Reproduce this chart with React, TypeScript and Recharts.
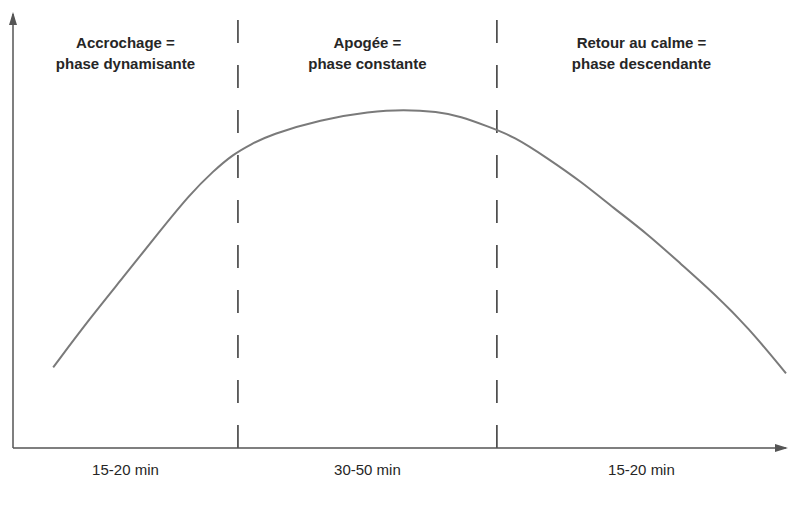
import React from 'react';
import { LineChart, Line, XAxis, YAxis, ReferenceLine, ReferenceArea, ReferenceDot } from 'recharts';

// phase boundaries on a 0-100 time scale
const phaseBounds = [0, 29.1, 62.6, 100];
const phaseTitles = [
  ['Accrochage =', 'phase dynamisante'],
  ['Apogée =', 'phase constante'],
  ['Retour au calme =', 'phase descendante'],
];
const phaseDurations = ['15-20 min', '30-50 min', '15-20 min'];

// intensity curve
const curveX = [5.2, 10.0, 14.2, 18.7, 22.9, 25.9, 28.5, 30.8, 33.3, 39.8, 46.2, 50.5, 54.9, 57.9, 61.4, 64.8, 69.2, 73.4, 77.7, 82.1, 86.4, 90.7, 95.1, 100];
const curveY = [18.6, 30.0, 39.2, 49.3, 58.5, 63.8, 67.7, 70.0, 72.2, 75.7, 77.5, 78.0, 77.5, 76.4, 74.1, 71.8, 66.7, 61.5, 55.3, 49.3, 42.4, 35.6, 27.8, 17.2];

const data = curveX.map((x, i) => ({ t: x, v: curveY[i] }));
const phaseCenters = phaseBounds.slice(0, -1).map((b, i) => (b + phaseBounds[i + 1]) / 2);

const FONT = '"Liberation Sans", Arial, sans-serif';
const INK = '#262626';

const HeaderLabel = ({ viewBox, lines }: any) => {
  const cx = viewBox.x + viewBox.width / 2;
  return (
    <text x={cx} y={viewBox.y + 34} textAnchor="middle" fontFamily={FONT} fontWeight="bold" fontSize={15} fill={INK}>
      {lines.map((l: string, i: number) => (
        <tspan key={i} x={cx} dy={i === 0 ? 0 : 21}>{l}</tspan>
      ))}
    </text>
  );
};

const ArrowRight = ({ cx, cy }: any) => (
  <path d={`M${cx - 11},${cy - 4} L${cx + 2},${cy} L${cx - 11},${cy + 4} Z`} fill="#555" />
);
const ArrowUp = ({ cx, cy }: any) => (
  <path d={`M${cx - 4},${cy + 11} L${cx},${cy - 2} L${cx + 4},${cy + 11} Z`} fill="#555" />
);

export default function App() {
  return (
    <div style={{ position: 'absolute', left: 0, top: 0, width: 789, height: 518, background: '#fff' }}>
      <LineChart width={789} height={518} data={data} margin={{ top: 14, right: 3, bottom: 0, left: 0 }}>
        <XAxis
          dataKey="t"
          type="number"
          domain={[0, 100]}
          ticks={phaseCenters}
          tickFormatter={(v: number) => phaseDurations[phaseCenters.indexOf(v)] ?? ''}
          tickLine={false}
          tickSize={6}
          tickMargin={10}
          height={70}
          axisLine={{ stroke: '#555', strokeWidth: 1.5 }}
          tick={{ fill: INK, fontSize: 15, fontFamily: FONT }}
        />
        <YAxis
          type="number"
          domain={[0, 100]}
          width={13}
          tick={false}
          tickLine={false}
          axisLine={{ stroke: '#555', strokeWidth: 1.5 }}
        />
        {phaseTitles.map((lines, i) => (
          <ReferenceArea
            key={i}
            x1={phaseBounds[i]}
            x2={phaseBounds[i + 1]}
            fill="none"
            fillOpacity={0}
            label={(p: any) => <HeaderLabel {...p} lines={lines} />}
          />
        ))}
        {phaseBounds.slice(1, -1).map((b) => (
          <ReferenceLine key={b} x={b} stroke="#333" strokeWidth={1.5} strokeDasharray="23 22" />
        ))}
        <Line
          type="basis"
          dataKey="v"
          stroke="#7a7a7a"
          strokeWidth={2}
          dot={false}
          isAnimationActive={false}
        />
        <ReferenceDot x={100} y={0} r={0} shape={ArrowRight} ifOverflow="visible" />
        <ReferenceDot x={0} y={100} r={0} shape={ArrowUp} ifOverflow="visible" />
      </LineChart>
    </div>
  );
}
